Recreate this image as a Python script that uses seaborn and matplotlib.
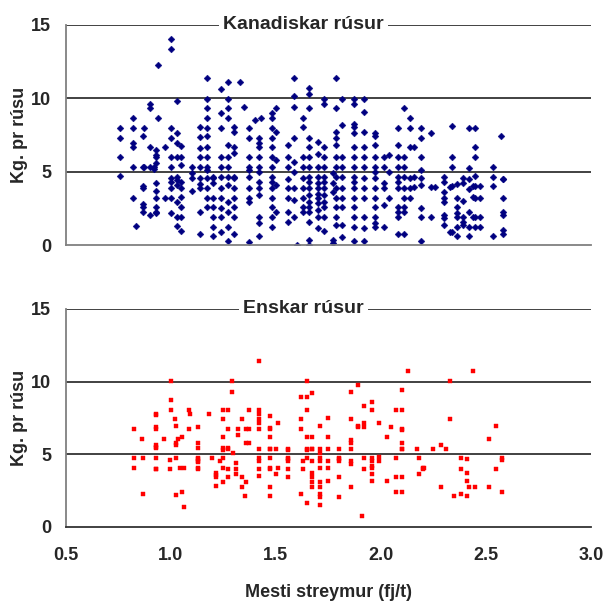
import seaborn as sns
import matplotlib.pyplot as plt
import pandas as pd

# Kanadiskar rúsur: x columns (mesti streymur) and kg values in each column
kan_x = [0.76, 0.82, 0.834, 0.865, 0.873, 0.90, 0.92, 0.93, 0.94, 0.97,
         1.00, 1.03, 1.05, 1.10, 1.14, 1.17, 1.20, 1.24, 1.27, 1.30,
         1.33, 1.35, 1.37, 1.40, 1.42, 1.43, 1.48, 1.50, 1.56, 1.585,
         1.60, 1.63, 1.66, 1.70, 1.73, 1.77, 1.787, 1.816, 1.87, 1.92,
         1.97, 2.015, 2.04, 2.08, 2.11, 2.14, 2.16, 2.19, 2.24, 2.26,
         2.30, 2.33, 2.34, 2.36, 2.39, 2.42, 2.44, 2.45, 2.47, 2.535,
         2.57, 2.58]
kan_y = [
    [8.0, 7.33, 6.0, 4.7],
    [8.64, 8.0, 6.94, 6.7, 5.35, 3.24],
    [1.3],
    [7.44, 5.35, 4.04, 3.88, 2.8, 2.63, 2.29],
    [8.0, 5.35],
    [9.64, 9.32, 6.7, 5.35, 2.07],
    [5.35, 5.17],
    [6.46, 6.15, 6.03, 5.62, 4.22, 3.7, 3.24, 2.63, 2.29, 2.18],
    [12.27, 8.64],
    [6.67, 3.24],
    [13.36, 14.04, 8.0, 7.33, 6.03, 5.35, 4.6, 4.33, 3.88, 3.24, 2.18],
    [9.84, 7.67, 6.94, 6.03, 4.67, 4.45, 4.1, 2.97, 1.95, 1.3],
    [6.78, 6.03, 5.47, 4.33, 3.88, 3.31, 2.63, 1.95, 0.98],
    [4.56, 3.7, 5.35, 4.9],
    [8.07, 7.39, 6.6, 6.03, 5.35, 4.56, 3.88, 2.29, 0.75, 4.2],
    [11.4, 9.96, 9.32, 8.64, 8.0, 7.44, 6.67, 6.03, 5.35, 5.12, 4.56, 3.92, 3.24, 2.63],
    [4.67, 4.56, 4.22, 3.2, 2.63, 1.95, 1.27, 0.66],
    [10.6, 8.98, 8.0, 6.03, 5.35, 4.67, 3.88, 3.2, 2.52, 1.95, 0.93],
    [11.09, 9.96, 9.32, 8.64, 6.83, 6.03, 5.35, 4.67, 4.1, 2.97, 2.29, 1.27, 0.3],
    [8.07, 7.73, 6.67, 6.26, 4.67, 4.56, 3.88, 3.2, 2.63, 1.95, 0.75],
    [11.09],
    [9.43],
    [8.0, 7.33, 6.03, 5.35, 5.12, 4.67, 3.88, 3.2, 2.97, 0.2],
    [8.53],
    [7.33, 6.94, 6.67, 6.03, 5.35, 5.01, 4.33, 3.88, 3.43, 1.95, 1.5, 0.64],
    [8.64],
    [8.98, 8.64, 8.0, 7.33, 6.67, 6.03, 5.35, 4.67, 4.33, 3.88, 3.2, 2.63, 1.95, 1.27],
    [9.32, 7.73, 5.8, 4.1, 2.3],
    [6.83, 6.03, 5.35, 4.51, 3.88, 3.2, 2.29, 1.61],
    [11.4, 10.18, 9.43, 7.33, 5.69, 5.01, 3.88, 3.08, 1.95],
    [0.0],
    [8.64, 8.07, 6.03, 5.35, 4.56, 3.88, 3.2, 2.63, 2.29],
    [10.68, 10.3, 9.32, 7.33, 6.67, 6.03, 5.35, 4.67, 4.33, 3.88, 3.43, 2.97, 2.63, 2.29, 1.61, 0.37, 0.03],
    [7.0, 6.2, 5.35, 4.67, 4.22, 3.88, 3.5, 3.2, 2.86, 2.4, 1.95, 1.2],
    [9.96, 9.64, 6.67, 6.03, 5.35, 4.67, 4.33, 3.88, 3.43, 2.97, 2.63, 1.95, 1.0],
    [0.37, 0.14, 4.9, 4.22, 3.6],
    [11.4, 9.32, 7.73, 7.33, 6.83, 6.03, 5.35, 4.67, 3.88, 3.2, 2.63, 1.95, 1.38],
    [9.96, 8.19, 6.03, 5.35, 4.67, 3.88, 3.2, 2.63, 1.38, 0.6],
    [9.96, 9.64, 8.23, 8.07, 7.62, 6.67, 6.03, 5.35, 4.67, 4.33, 3.88, 3.2, 2.63, 1.95, 1.27, 0.3],
    [9.96, 9.1, 7.73, 6.67, 6.03, 5.35, 4.56, 3.88, 3.2, 1.95, 1.16, 0.3],
    [7.62, 7.44, 6.83, 6.03, 5.35, 5.01, 4.56, 3.88, 3.2, 2.63, 1.95, 1.5, 1.27],
    [6.03, 5.35, 4.22, 3.88, 2.74, 1.27],
    [6.15, 5.01, 3.2],
    [8.0, 6.83, 6.03, 5.35, 4.67, 4.33, 3.88, 2.63, 2.29, 1.95, 0.75],
    [9.32, 6.03, 5.35, 4.67, 3.88, 3.2, 2.63, 2.29, 0.75],
    [8.64, 8.0, 6.67, 4.56, 3.88, 3.2],
    [6.67, 4.67, 4.0],
    [8.0, 7.33, 6.03, 5.12, 4.56, 4.1, 2.52, 1.95, 0.3],
    [7.67, 4.0, 1.95],
    [4.0],
    [4.67, 4.33, 3.65, 3.2, 2.97, 2.06, 1.84, 1.38],
    [4.0, 0.93],
    [8.12, 6.03, 5.35, 4.04, 0.93],
    [4.15, 3.24, 2.63, 2.18, 1.95, 1.27, 0.64],
    [4.56, 4.27, 3.04, 1.95, 1.61, 1.38],
    [8.0, 5.24, 4.49, 3.81, 2.29, 1.27, 0.64],
    [4.04, 3.31, 1.95],
    [8.0, 6.67, 6.03, 4.72, 4.04, 3.24, 1.95, 1.27],
    [4.04, 3.24, 1.95, 1.27],
    [5.35, 4.67, 4.04, 0.64],
    [7.44],
    [4.49, 4.49, 3.24, 2.29, 2.06, 1.07, 0.75],
]

# Enskar rúsur
ens_x = [0.823, 0.861, 0.868, 0.93, 0.965, 0.996, 1.00, 1.018, 1.026, 1.034,
         1.042, 1.055, 1.063, 1.085, 1.093, 1.13, 1.182, 1.198, 1.214, 1.235,
         1.25, 1.27, 1.29, 1.294, 1.31, 1.32, 1.34, 1.355, 1.36, 1.37,
         1.42, 1.47, 1.50, 1.51, 1.56, 1.62, 1.63, 1.65, 1.67, 1.71,
         1.75, 1.80, 1.86, 1.89, 1.91, 1.92, 1.96, 1.99, 2.03, 2.05,
         2.07, 2.10, 2.13, 2.17, 2.18, 2.20, 2.207, 2.247, 2.284, 2.31,
         2.33, 2.35, 2.38, 2.41, 2.42, 2.44, 2.45, 2.515, 2.55, 2.575]
ens_y = [
    [6.74, 4.72, 4.08],
    [6.08],
    [4.72, 2.29],
    [7.75, 7.7, 6.86, 6.74, 5.64, 5.53, 5.41, 4.72, 3.97, 3.97],
    [6.08],
    [4.63, 3.97],
    [10.07, 8.74, 8.07],
    [7.41],
    [6.97, 5.76, 5.64, 4.77, 2.2],
    [6.08],
    [4.08],
    [6.19, 2.41],
    [4.08, 1.4],
    [8.07, 6.74],
    [7.75],
    [4.72, 4.54, 4.5, 3.97, 4.08, 5.76, 5.41, 6.86, 4.7],
    [7.75],
    [4.72],
    [3.69, 3.56, 3.42, 2.82],
    [4.54],
    [8.07, 7.41, 6.19, 5.41, 5.3, 4.72, 4.08, 3.07],
    [8.07, 6.74, 5.41, 5.38, 3.97, 3.42],
    [10.07, 9.31],
    [5.07],
    [4.43, 3.97, 3.62],
    [6.74, 6.31],
    [7.41, 3.42, 2.73],
    [2.1],
    [6.74, 5.76, 3.07],
    [8.07, 6.74, 5.76],
    [11.4, 8.07, 7.75, 7.41, 7.18, 6.74, 5.39, 4.72, 4.54, 3.97, 3.51],
    [7.64, 6.74, 6.83, 6.17, 5.39, 5.36, 4.72, 4.08, 3.97, 2.73, 2.1],
    [5.39, 3.62],
    [7.18, 4.08],
    [4.72, 4.54, 3.42, 5.39, 5.3, 4.7, 3.97],
    [8.97, 7.41, 6.74, 2.29],
    [4.54, 3.97],
    [10.07, 8.97, 8.07, 6.17, 5.39, 5.3, 4.72, 1.63],
    [9.2, 6.17, 5.39, 5.36, 4.54, 3.74, 3.42, 3.07, 2.73],
    [6.97, 5.39, 5.07, 4.72, 4.54, 4.08, 3.07, 2.73, 2.29, 2.06, 1.51],
    [6.17, 5.39, 4.54, 4.08, 3.19, 7.52],
    [4.72, 4.7, 4.54, 5.39, 3.42, 2.06],
    [9.31, 7.41, 5.76, 5.99, 5.39, 4.54, 4.31, 2.73],
    [9.75, 6.97, 6.86],
    [0.76],
    [8.3, 7.18, 6.86, 4.72, 3.97],
    [8.62, 8.07, 4.2, 4.08, 3.62, 3.19, 4.72, 4.54],
    [7.18, 4.84, 4.54],
    [6.17, 3.19],
    [6.86],
    [8.07, 4.72, 3.42, 2.41],
    [9.43, 8.07, 6.74, 6.7, 5.76, 5.39, 5.36, 3.42, 2.41],
    [10.76],
    [5.39],
    [4.72, 3.62],
    [3.97, 4.08],
    [4.08],
    [5.39],
    [5.62, 2.73],
    [5.39],
    [10.07, 7.41],
    [2.1],
    [4.72, 3.97, 2.29],
    [4.66, 3.74, 3.19, 2.1],
    [2.73],
    [10.76],
    [2.73],
    [6.08, 2.73],
    [6.97, 3.97],
    [4.72, 4.63, 2.41],
]

yticks = [0, 5, 10, 15]
xticks = [0.5, 1.0, 1.5, 2.0, 2.5, 3.0]


def to_frame(xs, ys):
    rows = [(x, y) for x, col in zip(xs, ys) for y in col]
    return pd.DataFrame(rows, columns=["streymur", "kg"])


kan = to_frame(kan_x, kan_y)
ens = to_frame(ens_x, ens_y)

sns.set_style("white")
plt.rcParams['font.family'] = ['Liberation Sans', 'DejaVu Sans']
plt.rcParams['font.weight'] = 'bold'

fig = plt.figure(figsize=(6.07, 6.05), dpi=100)
ax1 = fig.add_axes([0.1085, 0.5945, 0.865, 0.3645])
ax2 = fig.add_axes([0.1085, 0.129, 0.865, 0.3605])

sns.scatterplot(data=kan, x="streymur", y="kg", ax=ax1, marker="D",
                color="#000080", s=12, edgecolor="#000080", linewidth=0.3)
sns.scatterplot(data=ens, x="streymur", y="kg", ax=ax2, marker="s",
                color="#ff0000", s=9, edgecolor="#ff0000", linewidth=0.3)

for ax, title in [(ax1, "Kanadiskar rúsur"), (ax2, "Enskar rúsur")]:
    ax.set_xlim(0.5, 3.0)
    ax.set_ylim(0, 15)
    ax.set_yticks(yticks)
    ax.set_yticklabels([str(t) for t in yticks], fontsize=13, fontweight='bold')
    for t in yticks[1:]:
        ax.axhline(t, color="#333333", linewidth=1.3, zorder=0)
    ax.spines['top'].set_visible(False)
    ax.spines['right'].set_visible(False)
    ax.spines['left'].set_color("#808080")
    ax.spines['left'].set_linewidth(1.3)
    ax.spines['bottom'].set_color("#808080")
    ax.spines['bottom'].set_linewidth(1.3)
    ax.tick_params(axis='y', direction='out', length=4.5, width=1.2,
                   color="#808080", pad=6)
    ax.set_ylabel("Kg. pr rúsu", fontsize=13, fontweight='bold', va='center')
    ax.yaxis.set_label_coords(-0.088, 0.5)
    ax.text(0.453, 1.0, title, transform=ax.transAxes, ha='center', va='center',
            fontsize=14, fontweight='bold', zorder=5,
            bbox=dict(facecolor='white', edgecolor='none', pad=3))

ax1.set_xticks([])
ax1.set_xlabel("")
ax2.set_xticks(xticks)
ax2.set_xticklabels([f"{t:.1f}" for t in xticks], fontsize=13, fontweight='bold')
ax2.tick_params(axis='x', direction='out', length=4.5, width=1.2,
                color="#333333", pad=10)
ax2.spines['bottom'].set_color("#333333")
ax2.set_xlabel("Mesti streymur (fj/t)", fontsize=13, fontweight='bold', labelpad=14)

fig.savefig("out.png", dpi=100)
plt.close(fig)
